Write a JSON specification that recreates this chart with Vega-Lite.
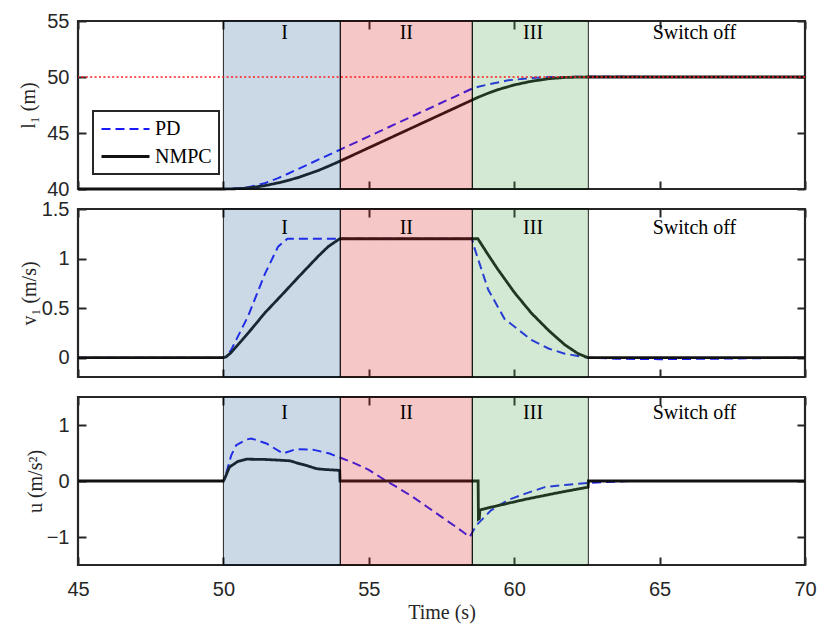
{
 "$schema": "https://vega.github.io/schema/vega-lite/v6.json",
 "padding": {"left": 17, "top": 9, "right": 0, "bottom": 2},
 "bounds": "flush",
 "spacing": 20,
 "config": {
  "view": {"stroke": "#262626", "strokeWidth": 2.2},
  "axis": {"domain": false, "grid": false, "ticks": true, "zindex": 1, "tickColor": "#262626", "tickWidth": 2, "tickSize": 8, "offset": -8, "labelFont": "Liberation Sans", "labelFontSize": 20, "labelColor": "#262626", "labelPadding": 9, "labelFlush": false, "labelOverlap": false, "titleFont": "Liberation Serif", "titleFontSize": 20, "titleFontWeight": "normal", "titleColor": "#262626", "titlePadding": 2}
 },
 "resolve": {"scale": {"color": "independent", "strokeDash": "independent", "strokeWidth": "independent"}, "legend": {"color": "independent", "strokeDash": "independent"}},
 "datasets": {
  "lines": [
   {"p":"l","s":"PD","t":45,"y":40},{"p":"l","s":"PD","t":50,"y":40},{"p":"l","s":"PD","t":50.27,"y":40.01},{"p":"l","s":"PD","t":50.85,"y":40.16},{"p":"l","s":"PD","t":51.42,"y":40.52},{"p":"l","s":"PD","t":51.88,"y":40.97},{"p":"l","s":"PD","t":52.2,"y":41.34},{"p":"l","s":"PD","t":53,"y":42.3},{"p":"l","s":"PD","t":54,"y":43.5},{"p":"l","s":"PD","t":55,"y":44.7},{"p":"l","s":"PD","t":56,"y":45.9},{"p":"l","s":"PD","t":57,"y":47.1},{"p":"l","s":"PD","t":58,"y":48.3},{"p":"l","s":"PD","t":58.55,"y":48.96},{"p":"l","s":"PD","t":58.8,"y":49.15},{"p":"l","s":"PD","t":59.1,"y":49.33},{"p":"l","s":"PD","t":59.79,"y":49.7},{"p":"l","s":"PD","t":60.59,"y":49.91},{"p":"l","s":"PD","t":61.2,"y":50.0},{"p":"l","s":"PD","t":62.54,"y":50.02},{"p":"l","s":"PD","t":65,"y":50.01},{"p":"l","s":"PD","t":70,"y":50},
   {"p":"l","s":"NMPC","t":45,"y":40},{"p":"l","s":"NMPC","t":50,"y":40},{"p":"l","s":"NMPC","t":50.26,"y":40.01},{"p":"l","s":"NMPC","t":50.65,"y":40.05},{"p":"l","s":"NMPC","t":51,"y":40.14},{"p":"l","s":"NMPC","t":51.42,"y":40.3},{"p":"l","s":"NMPC","t":52,"y":40.61},{"p":"l","s":"NMPC","t":52.57,"y":41.02},{"p":"l","s":"NMPC","t":53.25,"y":41.64},{"p":"l","s":"NMPC","t":53.6,"y":42.02},{"p":"l","s":"NMPC","t":54,"y":42.48},{"p":"l","s":"NMPC","t":55,"y":43.68},{"p":"l","s":"NMPC","t":56,"y":44.88},{"p":"l","s":"NMPC","t":57,"y":46.08},{"p":"l","s":"NMPC","t":58,"y":47.28},{"p":"l","s":"NMPC","t":58.75,"y":48.18},{"p":"l","s":"NMPC","t":59.1,"y":48.55},{"p":"l","s":"NMPC","t":59.44,"y":48.87},{"p":"l","s":"NMPC","t":60,"y":49.29},{"p":"l","s":"NMPC","t":60.59,"y":49.62},{"p":"l","s":"NMPC","t":61.2,"y":49.85},{"p":"l","s":"NMPC","t":61.74,"y":49.96},{"p":"l","s":"NMPC","t":62.2,"y":49.99},{"p":"l","s":"NMPC","t":62.54,"y":50},{"p":"l","s":"NMPC","t":70,"y":50},
   {"p":"v","s":"PD","t":45,"y":0},{"p":"v","s":"PD","t":50,"y":0},{"p":"v","s":"PD","t":50.1,"y":0.01},{"p":"v","s":"PD","t":50.27,"y":0.08},{"p":"v","s":"PD","t":50.85,"y":0.42},{"p":"v","s":"PD","t":51.42,"y":0.84},{"p":"v","s":"PD","t":51.88,"y":1.12},{"p":"v","s":"PD","t":52.2,"y":1.2},{"p":"v","s":"PD","t":58.55,"y":1.2},{"p":"v","s":"PD","t":58.64,"y":1.1},{"p":"v","s":"PD","t":59.1,"y":0.69},{"p":"v","s":"PD","t":59.67,"y":0.39},{"p":"v","s":"PD","t":60.59,"y":0.18},{"p":"v","s":"PD","t":61.2,"y":0.09},{"p":"v","s":"PD","t":61.74,"y":0.04},{"p":"v","s":"PD","t":62.54,"y":0},{"p":"v","s":"PD","t":63.5,"y":-0.01},{"p":"v","s":"PD","t":65,"y":-0.015},{"p":"v","s":"PD","t":67,"y":-0.01},{"p":"v","s":"PD","t":70,"y":0},
   {"p":"v","s":"NMPC","t":45,"y":0},{"p":"v","s":"NMPC","t":50,"y":0},{"p":"v","s":"NMPC","t":50.1,"y":0.01},{"p":"v","s":"NMPC","t":50.26,"y":0.05},{"p":"v","s":"NMPC","t":50.65,"y":0.18},{"p":"v","s":"NMPC","t":51,"y":0.3},{"p":"v","s":"NMPC","t":51.42,"y":0.45},{"p":"v","s":"NMPC","t":52,"y":0.63},{"p":"v","s":"NMPC","t":52.57,"y":0.81},{"p":"v","s":"NMPC","t":53.25,"y":1.02},{"p":"v","s":"NMPC","t":53.6,"y":1.12},{"p":"v","s":"NMPC","t":54,"y":1.2},{"p":"v","s":"NMPC","t":58.75,"y":1.2},{"p":"v","s":"NMPC","t":59.1,"y":1.04},{"p":"v","s":"NMPC","t":59.44,"y":0.89},{"p":"v","s":"NMPC","t":60,"y":0.66},{"p":"v","s":"NMPC","t":60.59,"y":0.45},{"p":"v","s":"NMPC","t":61.2,"y":0.27},{"p":"v","s":"NMPC","t":61.74,"y":0.13},{"p":"v","s":"NMPC","t":62.2,"y":0.04},{"p":"v","s":"NMPC","t":62.54,"y":0},{"p":"v","s":"NMPC","t":70,"y":0},
   {"p":"u","s":"PD","t":45,"y":0},{"p":"u","s":"PD","t":50,"y":0},{"p":"u","s":"PD","t":50.05,"y":0.05},{"p":"u","s":"PD","t":50.27,"y":0.46},{"p":"u","s":"PD","t":50.44,"y":0.64},{"p":"u","s":"PD","t":50.79,"y":0.74},{"p":"u","s":"PD","t":50.96,"y":0.76},{"p":"u","s":"PD","t":51.48,"y":0.67},{"p":"u","s":"PD","t":52.05,"y":0.49},{"p":"u","s":"PD","t":52.5,"y":0.57},{"p":"u","s":"PD","t":53.08,"y":0.56},{"p":"u","s":"PD","t":53.65,"y":0.49},{"p":"u","s":"PD","t":54.05,"y":0.41},{"p":"u","s":"PD","t":54.5,"y":0.32},{"p":"u","s":"PD","t":55,"y":0.2},{"p":"u","s":"PD","t":55.54,"y":0.02},{"p":"u","s":"PD","t":56,"y":-0.12},{"p":"u","s":"PD","t":56.5,"y":-0.28},{"p":"u","s":"PD","t":57,"y":-0.46},{"p":"u","s":"PD","t":57.5,"y":-0.64},{"p":"u","s":"PD","t":58,"y":-0.82},{"p":"u","s":"PD","t":58.24,"y":-0.91},{"p":"u","s":"PD","t":58.47,"y":-1.0},{"p":"u","s":"PD","t":58.7,"y":-0.79},{"p":"u","s":"PD","t":59.21,"y":-0.52},{"p":"u","s":"PD","t":59.79,"y":-0.34},{"p":"u","s":"PD","t":60.36,"y":-0.23},{"p":"u","s":"PD","t":61.05,"y":-0.11},{"p":"u","s":"PD","t":61.74,"y":-0.07},{"p":"u","s":"PD","t":62.42,"y":-0.04},{"p":"u","s":"PD","t":63.1,"y":-0.02},{"p":"u","s":"PD","t":64,"y":0},{"p":"u","s":"PD","t":70,"y":0},
   {"p":"u","s":"NMPC","t":45,"y":0},{"p":"u","s":"NMPC","t":50,"y":0},{"p":"u","s":"NMPC","t":50.04,"y":0.04},{"p":"u","s":"NMPC","t":50.21,"y":0.25},{"p":"u","s":"NMPC","t":50.5,"y":0.35},{"p":"u","s":"NMPC","t":50.79,"y":0.39},{"p":"u","s":"NMPC","t":51.4,"y":0.385},{"p":"u","s":"NMPC","t":52,"y":0.37},{"p":"u","s":"NMPC","t":52.3,"y":0.36},{"p":"u","s":"NMPC","t":52.6,"y":0.31},{"p":"u","s":"NMPC","t":52.9,"y":0.27},{"p":"u","s":"NMPC","t":53.2,"y":0.22},{"p":"u","s":"NMPC","t":53.5,"y":0.205},{"p":"u","s":"NMPC","t":54,"y":0.19},{"p":"u","s":"NMPC","t":54.01,"y":0},{"p":"u","s":"NMPC","t":58.76,"y":0},{"p":"u","s":"NMPC","t":58.77,"y":-0.68},{"p":"u","s":"NMPC","t":58.8,"y":-0.67},{"p":"u","s":"NMPC","t":58.82,"y":-0.52},{"p":"u","s":"NMPC","t":59.1,"y":-0.48},{"p":"u","s":"NMPC","t":59.44,"y":-0.44},{"p":"u","s":"NMPC","t":60.36,"y":-0.33},{"p":"u","s":"NMPC","t":61.5,"y":-0.21},{"p":"u","s":"NMPC","t":62.54,"y":-0.11},{"p":"u","s":"NMPC","t":62.55,"y":0},{"p":"u","s":"NMPC","t":70,"y":0}
  ],
  "regions": [
   {"r":"I","a":50,"b":54.02},{"r":"II","a":54.02,"b":58.56},{"r":"III","a":58.56,"b":62.55}
  ],
  "labels": [
   {"p":"l","lab":"I","t":52.1,"y":53.95},{"p":"l","lab":"II","t":56.29,"y":53.95},{"p":"l","lab":"III","t":60.65,"y":53.95},{"p":"l","lab":"Switch off","t":66.2,"y":53.95},
   {"p":"v","lab":"I","t":52.1,"y":1.31},{"p":"v","lab":"II","t":56.29,"y":1.31},{"p":"v","lab":"III","t":60.65,"y":1.31},{"p":"v","lab":"Switch off","t":66.2,"y":1.31},
   {"p":"u","lab":"I","t":52.1,"y":1.21},{"p":"u","lab":"II","t":56.29,"y":1.21},{"p":"u","lab":"III","t":60.65,"y":1.21},{"p":"u","lab":"Switch off","t":66.2,"y":1.21}
  ]
 },
 "vconcat": [
  {
   "width": 727, "height": 168,
   "resolve": {"axis": {"x": "independent", "y": "independent"}},
   "layer": [
    {
     "data": {"name": "lines"},
     "transform": [{"filter": "datum.p === 'l'"}],
     "mark": {"type": "line"},
     "encoding": {
      "x": {"field": "t", "type": "quantitative", "scale": {"domain": [45, 70], "nice": false, "zero": false}, "axis": {"orient": "bottom", "labels": false, "title": null, "values": [45, 50, 55, 60, 65, 70]}},
      "y": {"field": "y", "type": "quantitative", "scale": {"domain": [40, 55], "nice": false, "zero": false}, "axis": {"orient": "left", "values": [40, 45, 50, 55], "title": "l₁ (m)", "titlePadding": 8}},
      "color": {"field": "s", "type": "nominal", "scale": {"domain": ["PD", "NMPC"], "range": ["#1a1aff", "#111111"]}, "legend": {"title": null, "orient": "bottom-left", "offset": 15, "fillColor": "#ffffff", "strokeColor": "#262626", "padding": 7, "labelFont": "Liberation Serif", "labelFontSize": 20, "labelColor": "#000000", "symbolType": "M-1,0H3.8", "symbolSize": 400, "symbolStrokeWidth": 2.5, "rowPadding": 6, "labelOffset": 32, "encode": {"legend": {"update": {"strokeWidth": {"value": 2}}}}}},
      "strokeDash": {"field": "s", "type": "nominal", "scale": {"domain": ["PD", "NMPC"], "range": [[9, 5], [1, 0]]}, "legend": {"title": null, "orient": "bottom-left", "offset": 15, "fillColor": "#ffffff", "strokeColor": "#262626", "padding": 7, "labelFont": "Liberation Serif", "labelFontSize": 20, "labelColor": "#000000", "symbolType": "M-1,0H3.8", "symbolSize": 400, "symbolStrokeWidth": 2.5, "rowPadding": 6, "labelOffset": 32, "encode": {"legend": {"update": {"strokeWidth": {"value": 2}}}}}},
      "strokeWidth": {"field": "s", "type": "nominal", "scale": {"domain": ["PD", "NMPC"], "range": [2, 2.8]}, "legend": null}
     }
    },
    {
     "data": {"name": "regions"},
     "mark": {"type": "rect", "fillOpacity": 0.25, "stroke": "#000000", "strokeWidth": 1, "strokeOpacity": 0.85},
     "encoding": {
      "x": {"field": "a", "type": "quantitative", "axis": {"orient": "top", "labels": false, "title": null, "values": [45, 50, 55, 60, 65, 70]}},
      "x2": {"field": "b"},
      "fill": {"field": "r", "type": "nominal", "scale": {"domain": ["I", "II", "III"], "range": ["#2f679f", "#db1f1f", "#4fa74f"]}, "legend": null}
     }
    },
    {
     "data": {"name": "labels"},
     "transform": [{"filter": "datum.p === 'l'"}],
     "mark": {"type": "text", "font": "Liberation Serif", "fontSize": 20, "color": "#000000", "baseline": "middle"},
     "encoding": {
      "x": {"field": "t", "type": "quantitative", "axis": null},
      "y": {"field": "y", "type": "quantitative", "axis": {"orient": "right", "labels": false, "title": null, "values": [40, 45, 50, 55]}},
      "text": {"field": "lab"}
     }
    },
    {
     "data": {"values": [{}]},
     "mark": {"type": "rule", "color": "#ff1a1a", "strokeWidth": 1.5, "strokeDash": [2, 2.4]},
     "encoding": {"y": {"datum": 50, "type": "quantitative", "axis": null}}
    }
   ]
  },
  {
   "width": 727, "height": 168,
   "resolve": {"axis": {"x": "independent", "y": "independent"}},
   "layer": [
    {
     "data": {"name": "lines"},
     "transform": [{"filter": "datum.p === 'v'"}],
     "mark": {"type": "line"},
     "encoding": {
      "x": {"field": "t", "type": "quantitative", "scale": {"domain": [45, 70], "nice": false, "zero": false}, "axis": {"orient": "bottom", "labels": false, "title": null, "values": [45, 50, 55, 60, 65, 70]}},
      "y": {"field": "y", "type": "quantitative", "scale": {"domain": [-0.195, 1.5], "nice": false, "zero": false}, "axis": {"orient": "left", "values": [0, 0.5, 1, 1.5], "format": "~g", "title": "v₁ (m/s)", "titlePadding": 2}},
      "color": {"field": "s", "type": "nominal", "scale": {"domain": ["PD", "NMPC"], "range": ["#1a1aff", "#111111"]}, "legend": null},
      "strokeDash": {"field": "s", "type": "nominal", "scale": {"domain": ["PD", "NMPC"], "range": [[9, 5], [1, 0]]}, "legend": null},
      "strokeWidth": {"field": "s", "type": "nominal", "scale": {"domain": ["PD", "NMPC"], "range": [2, 2.8]}, "legend": null}
     }
    },
    {
     "data": {"name": "regions"},
     "mark": {"type": "rect", "fillOpacity": 0.25, "stroke": "#000000", "strokeWidth": 1, "strokeOpacity": 0.85},
     "encoding": {
      "x": {"field": "a", "type": "quantitative", "axis": {"orient": "top", "labels": false, "title": null, "values": [45, 50, 55, 60, 65, 70]}},
      "x2": {"field": "b"},
      "fill": {"field": "r", "type": "nominal", "scale": {"domain": ["I", "II", "III"], "range": ["#2f679f", "#db1f1f", "#4fa74f"]}, "legend": null}
     }
    },
    {
     "data": {"name": "labels"},
     "transform": [{"filter": "datum.p === 'v'"}],
     "mark": {"type": "text", "font": "Liberation Serif", "fontSize": 20, "color": "#000000", "baseline": "middle"},
     "encoding": {
      "x": {"field": "t", "type": "quantitative", "axis": null},
      "y": {"field": "y", "type": "quantitative", "axis": {"orient": "right", "labels": false, "title": null, "values": [0, 0.5, 1, 1.5]}},
      "text": {"field": "lab"}
     }
    }
   ]
  },
  {
   "width": 727, "height": 168,
   "resolve": {"axis": {"x": "independent", "y": "independent"}},
   "layer": [
    {
     "data": {"name": "lines"},
     "transform": [{"filter": "datum.p === 'u'"}],
     "mark": {"type": "line"},
     "encoding": {
      "x": {"field": "t", "type": "quantitative", "scale": {"domain": [45, 70], "nice": false, "zero": false}, "axis": {"orient": "bottom", "values": [45, 50, 55, 60, 65, 70], "title": "Time (s)", "labelPadding": 14, "titlePadding": 3}},
      "y": {"field": "y", "type": "quantitative", "scale": {"domain": [-1.5, 1.5], "nice": false, "zero": false}, "axis": {"orient": "left", "values": [-1, 0, 1], "title": "u (m/s²)", "titlePadding": 1}},
      "color": {"field": "s", "type": "nominal", "scale": {"domain": ["PD", "NMPC"], "range": ["#1a1aff", "#111111"]}, "legend": null},
      "strokeDash": {"field": "s", "type": "nominal", "scale": {"domain": ["PD", "NMPC"], "range": [[9, 5], [1, 0]]}, "legend": null},
      "strokeWidth": {"field": "s", "type": "nominal", "scale": {"domain": ["PD", "NMPC"], "range": [2, 2.8]}, "legend": null}
     }
    },
    {
     "data": {"name": "regions"},
     "mark": {"type": "rect", "fillOpacity": 0.25, "stroke": "#000000", "strokeWidth": 1, "strokeOpacity": 0.85},
     "encoding": {
      "x": {"field": "a", "type": "quantitative", "axis": {"orient": "top", "labels": false, "title": null, "values": [45, 50, 55, 60, 65, 70]}},
      "x2": {"field": "b"},
      "fill": {"field": "r", "type": "nominal", "scale": {"domain": ["I", "II", "III"], "range": ["#2f679f", "#db1f1f", "#4fa74f"]}, "legend": null}
     }
    },
    {
     "data": {"name": "labels"},
     "transform": [{"filter": "datum.p === 'u'"}],
     "mark": {"type": "text", "font": "Liberation Serif", "fontSize": 20, "color": "#000000", "baseline": "middle"},
     "encoding": {
      "x": {"field": "t", "type": "quantitative", "axis": null},
      "y": {"field": "y", "type": "quantitative", "axis": {"orient": "right", "labels": false, "title": null, "values": [-1, 0, 1]}},
      "text": {"field": "lab"}
     }
    }
   ]
  }
 ]
}
